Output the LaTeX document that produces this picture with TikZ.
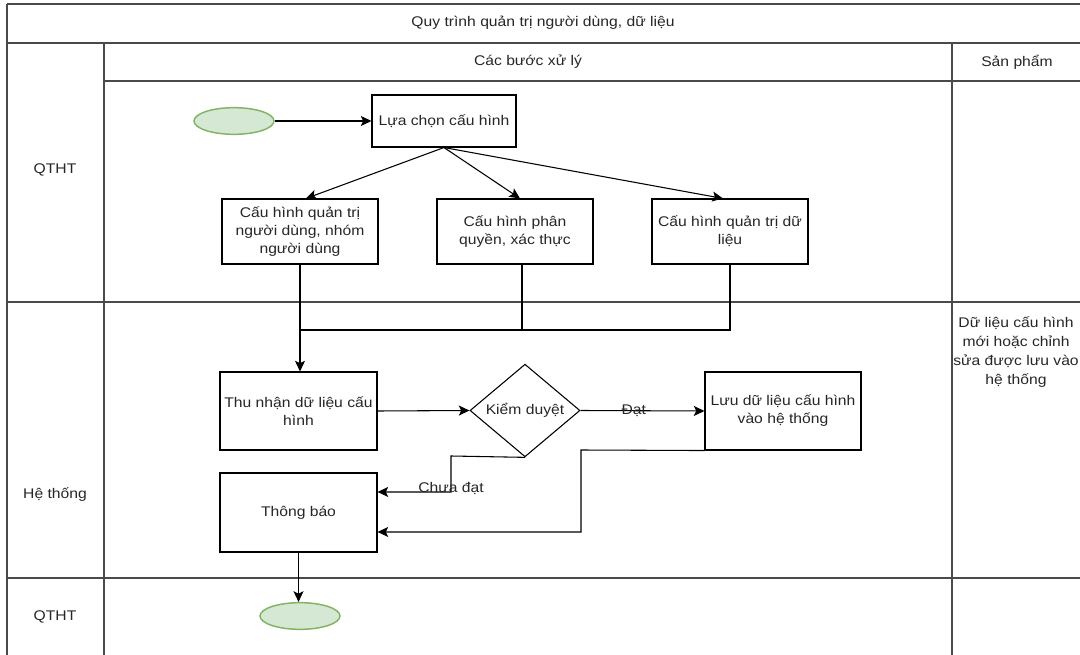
\documentclass[tikz,border=0pt]{standalone}
\usepackage{fontspec}
\setmainfont{Liberation Sans}[FakeStretch=1.12]
\usetikzlibrary{arrows.meta,shapes.geometric,calc}
\definecolor{lanecol}{HTML}{4A4A4A}
\definecolor{txt}{HTML}{262626}
\definecolor{termfill}{HTML}{D5E8D4}
\definecolor{termline}{HTML}{82B366}

\begin{document}
\begin{tikzpicture}[x=0.75pt,y=-0.75pt,
  font=\fontsize{10.5}{13.5}\selectfont, text=txt,
  lane/.style={draw=lanecol, line width=1.1pt},
  box/.style={draw=black, line width=0.8pt, fill=white, align=center, inner sep=2pt},
  term/.style={ellipse, draw=termline, fill=termfill, line width=1.1pt,
    minimum width=60pt, minimum height=20pt, inner sep=0pt},
  decision/.style={diamond, draw=black, line width=0.8pt,
    minimum width=82.5pt, minimum height=68.25pt, inner sep=0pt},
  flow/.style={draw=black, line width=0.8pt,
    -{Stealth[length=8pt,width=7.5pt,inset=1.8pt]}},
  link/.style={draw=black, line width=0.8pt},
  lbl/.style={inner sep=1pt, font=\fontsize{10.5}{12}\selectfont},
  celltext/.style={align=center, inner sep=0pt}
]
\useasboundingbox (0,0) rectangle (1080,655);

% swimlane grid
\draw[lane] (7,4) -- (1080,4);
\draw[lane] (7,4) -- (7,655);
\draw[lane] (7,43) -- (1080,43);
\draw[lane] (104,43) -- (104,655);
\draw[lane] (952,43) -- (952,655);
\draw[lane] (104,81) -- (1080,81);
\draw[lane] (7,302) -- (1080,302);
\draw[lane] (7,578) -- (1080,578);

% headers and lane titles
\node[celltext] (title) at (543,23) {Quy trình quản trị người dùng, dữ liệu};
\node[celltext] (colsteps) at (528,62) {Các bước xử lý};
\node[celltext] (colprod) at (1017,62) {Sản phẩm};
\node[celltext] (laneadmin) at (55,170) {QTHT};
\node[celltext] (lanesys) at (55,495) {Hệ thống};
\node[celltext] (laneend) at (55,617) {QTHT};
\node[celltext, font=\fontsize{10.5}{14.25}\selectfont] (product) at (1016,352)
  {Dữ liệu cấu hình\\mới hoặc chỉnh\\sửa được lưu vào\\hệ thống};

% process nodes
\node[term] (start) at (234,121) {};
\node[box, minimum width=108pt, minimum height=39pt] (sel) at (444,121) {Lựa chọn cấu hình};
\node[box, minimum width=117pt, minimum height=48.75pt] (cfgusr) at (300,231.5)
  {Cấu hình quản trị\\người dùng, nhóm\\người dùng};
\node[box, minimum width=117pt, minimum height=48.75pt] (cfgauth) at (515,231.5)
  {Cấu hình phân\\quyền, xác thực};
\node[box, minimum width=117pt, minimum height=48.75pt] (cfgdata) at (730,231.5)
  {Cấu hình quản trị dữ\\liệu};
\node[box, minimum width=117.75pt, minimum height=58.5pt] (recv) at (298.5,411)
  {Thu nhận dữ liệu cấu\\hình};
\node[decision] (check) at (525,410.5) {Kiểm duyệt};
\node[box, minimum width=117pt, minimum height=58.5pt] (save) at (783,411)
  {Lưu dữ liệu cấu hình\\vào hệ thống};
\node[box, minimum width=117.75pt, minimum height=59.25pt] (notify) at (298.5,512.5)
  {Thông báo};
\node[term] (finish) at (300,616) {};

% connectors
\draw[flow] (start) -- (sel);
\draw[flow] (sel.south) -- ([xshift=4.5pt]cfgusr.north);
\draw[flow] (sel.south) -- ([xshift=3.75pt]cfgauth.north);
\draw[flow] (sel.south) -- ([xshift=-5.25pt]cfgdata.north);

\coordinate (merge) at (300,330);
\draw[flow] (cfgusr.south) -- (cfgusr.south |- recv.north);
\draw[link] ([xshift=5.25pt]cfgauth.south) |- (merge);
\draw[link] (cfgdata.south) |- (merge);

\draw[flow] (recv.east) -- (check.west);
\draw[flow] (check.east) -- node[lbl, pos=0.43] {Đạt} (save.west);

\coordinate (rejx) at (451,456);
\draw[flow] (check.south) -- (rejx) |- node[lbl, pos=0.5, yshift=2.25pt] {Chưa đạt}
  ([yshift=15.4pt]notify.east);

\coordinate (savex) at (581,450);
\draw[flow] (save.south west) -- (savex) |- ([yshift=-14.6pt]notify.east);

\draw[flow] (notify.south) -- (notify.south |- finish.north);
\end{tikzpicture}
\end{document}
